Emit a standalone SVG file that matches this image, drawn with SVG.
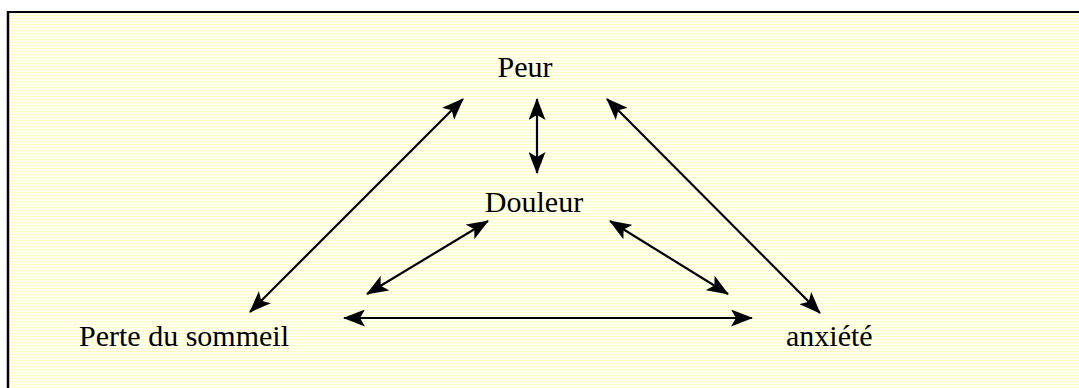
<svg xmlns="http://www.w3.org/2000/svg" width="1079" height="388" viewBox="0 0 1079 388">
<defs>
<pattern id="stripes" x="0" y="0" width="6" height="3" patternUnits="userSpaceOnUse">
<rect width="6" height="3" fill="#ffffff"/>
<rect width="6" height="1.3" fill="#ffffc0"/>
</pattern>
<marker id="ah" viewBox="0 0 22 17" markerWidth="22" markerHeight="17" refX="21" refY="8.5" orient="auto-start-reverse" markerUnits="userSpaceOnUse">
<path d="M0,0 L22,8.5 L0,17 L5,8.5 z" fill="#000"/>
</marker>
<style>
.lbl{font-family:"Liberation Serif","Times New Roman",serif;font-size:30px;fill:#000}
.c{stroke:#000;stroke-width:2.2;fill:none;marker-start:url(#ah);marker-end:url(#ah)}
</style>
</defs>
<rect x="0" y="0" width="1079" height="388" fill="#ffffff"/>
<rect x="8" y="12" width="1071" height="376" fill="url(#stripes)"/>
<line x1="8" y1="12" x2="1079" y2="12" stroke="#000" stroke-width="2"/>
<line x1="8" y1="11" x2="8" y2="388" stroke="#000" stroke-width="2.5"/>
<g id="connectors">
<line class="c" x1="463" y1="99" x2="250" y2="312"/>
<line class="c" x1="537" y1="99" x2="537" y2="173"/>
<line class="c" x1="607" y1="99" x2="820" y2="313"/>
<line class="c" x1="488" y1="221" x2="367" y2="294"/>
<line class="c" x1="610" y1="221" x2="728" y2="294"/>
<line class="c" x1="344" y1="318" x2="752" y2="318"/>
</g>
<g id="peur"><text class="lbl" x="525" y="77" text-anchor="middle">Peur</text></g>
<g id="douleur"><text class="lbl" x="534" y="212" text-anchor="middle">Douleur</text></g>
<g id="perte"><text class="lbl" x="79" y="346">Perte du sommeil</text></g>
<g id="anxiete"><text class="lbl" x="786" y="346">anxiété</text></g>
</svg>
